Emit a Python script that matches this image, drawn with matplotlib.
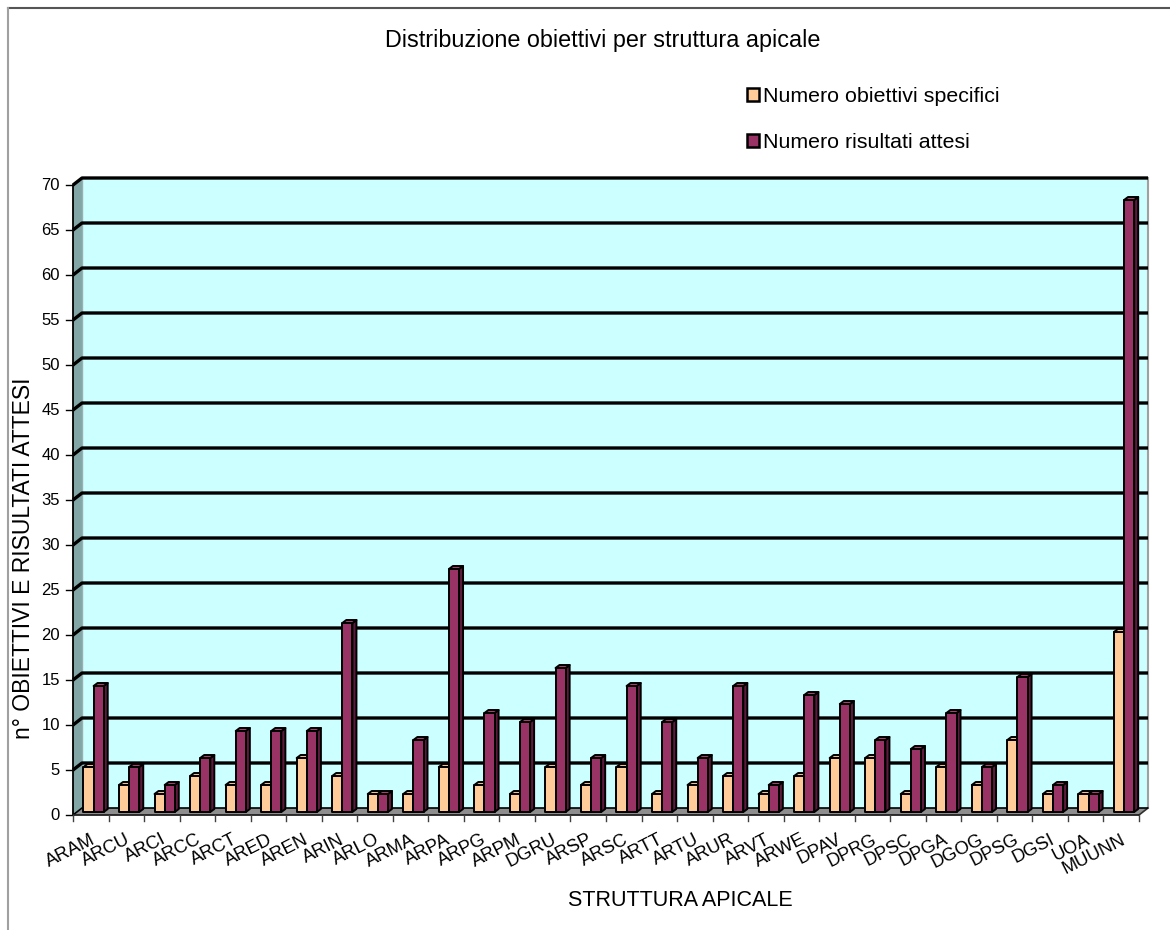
import matplotlib
matplotlib.use('Agg')
import matplotlib.pyplot as plt
from matplotlib.patches import Polygon, Rectangle, Patch
from matplotlib.lines import Line2D

categories = ["ARAM", "ARCU", "ARCI", "ARCC", "ARCT", "ARED", "AREN", "ARIN", "ARLO", "ARMA",
              "ARPA", "ARPG", "ARPM", "DGRU", "ARSP", "ARSC", "ARTT", "ARTU", "ARUR", "ARVT",
              "ARWE", "DPAV", "DPRG", "DPSC", "DPGA", "DGOG", "DPSG", "DGSI", "UOA", "MUUNN"]
obiettivi = [5, 3, 2, 4, 3, 3, 6, 4, 2, 2, 5, 3, 2, 5, 3, 5, 2, 3, 4, 2,
             4, 6, 6, 2, 5, 3, 8, 2, 2, 20]
risultati = [14, 5, 3, 6, 9, 9, 9, 21, 2, 8, 27, 11, 10, 16, 6, 14, 10, 6, 14, 3,
             13, 12, 8, 7, 11, 5, 15, 3, 2, 68]
y_ticks = list(range(0, 75, 5))
series_names = ["Numero obiettivi specifici", "Numero risultati attesi"]
title = "Distribuzione obiettivi per struttura apicale"
xlabel = "STRUTTURA APICALE"
ylabel = "n° OBIETTIVI E RISULTATI ATTESI"

plt.rcParams['font.family'] = ['Liberation Sans', 'DejaVu Sans']

W, H = 1170, 930
fig = plt.figure(figsize=(W / 100, H / 100), dpi=100)

# front plane in pixels
X0, X1 = 73, 1139
Y0, Y1 = 815, 185
ax = fig.add_axes([X0 / W, (H - Y0) / H, (X1 - X0) / W, (Y0 - Y1) / H])
n = len(categories)
ymax = 70
ax.set_xlim(0, n)
ax.set_ylim(0, ymax)
ax.axis('off')
ux = n / (X1 - X0)
uy = ymax / (Y0 - Y1)

DX, DY = 9, 7  # wall depth (px)
dx, dy = DX * ux, DY * uy

# back wall
ax.add_patch(Rectangle((dx, dy), n, ymax, facecolor='#CCFFFF', edgecolor='none', clip_on=False, zorder=1))
# left wall
ax.add_patch(Polygon([(0, 0), (dx, dy), (dx, ymax + dy), (0, ymax)], closed=True,
                     facecolor='#82A6A6', edgecolor='none', clip_on=False, zorder=1))
ax.add_line(Line2D([dx, dx], [dy, ymax + dy], color='#9AB0B0', lw=1.0, clip_on=False, zorder=2))
# floor
ax.add_patch(Polygon([(0, 0), (n, 0), (n + dx, dy), (dx, dy)], closed=True,
                     facecolor='#8E8E8E', edgecolor='none', clip_on=False, zorder=1))
# right edge of wall
ax.add_line(Line2D([n + dx, n + dx], [dy, ymax + dy], color='#A0A0A0', lw=1.5, clip_on=False, zorder=2))
ax.add_line(Line2D([n, n + dx], [0, dy], color='#303030', lw=1.2, clip_on=False, zorder=2))

# gridlines
for v in y_ticks:
    ax.add_line(Line2D([0, dx, n + dx], [v, v + dy, v + dy], color='black',
                       lw=2.4 if v > 0 else 1.2, clip_on=False, zorder=2, solid_capstyle='butt'))

# axes lines
ax.add_line(Line2D([0, 0], [0, ymax], color='black', lw=1.3, clip_on=False, zorder=6))
ax.add_line(Line2D([0, n], [0, 0], color='#202020', lw=1.3, clip_on=False, zorder=6))

# y ticks
for v in y_ticks:
    ax.add_line(Line2D([-7 * ux, 0], [v, v], color='black', lw=1.0, clip_on=False, zorder=6))
    ax.text(-13 * ux, v, str(v), ha='right', va='center', fontsize=12, clip_on=False)

# x ticks
for i in range(n + 1):
    ax.add_line(Line2D([i, i], [0, -6 * uy], color='#404040', lw=1.0, clip_on=False, zorder=6))
for i, c in enumerate(categories):
    ax.text(i + 0.48, -16 * uy, c, ha='right', va='top', rotation=27, rotation_mode='anchor',
            fontsize=13.2, clip_on=False)

# bars
face = ['#FFCC99', '#993366']
side = ['#D6A574', '#5E1A3C']
top = ['#F2BE8C', '#A8406F']
BW = 0.285
BX, BY = 3 * ux, 3 * uy
SX, SY = 4 * ux, 3 * uy
for i in range(n):
    for s, vals in enumerate([obiettivi, risultati]):
        v = vals[i]
        xl = i + 0.21 + s * BW + BX
        xr = xl + BW
        b = BY
        t = BY + v
        kw = dict(edgecolor='black', lw=1.4, clip_on=False, zorder=4, joinstyle='round')
        ax.add_patch(Polygon([(xr, b), (xr + SX, b + SY), (xr + SX, t + SY), (xr, t)], closed=True,
                             facecolor=side[s], **kw))
        ax.add_patch(Polygon([(xl, t), (xr, t), (xr + SX, t + SY), (xl + SX, t + SY)], closed=True,
                             facecolor=top[s], **kw))
        ax.add_patch(Rectangle((xl, b), BW, v, facecolor=face[s], **kw))

# texts
fig.text(603 / W, 1 - 40 / H, title, ha='center', va='center', fontsize=16.8)
fig.text(680 / W, 1 - 900 / H, xlabel, ha='center', va='center', fontsize=15.5)
fig.text(24 / W, 1 - 558 / H, ylabel, ha='center', va='center', rotation=90, fontsize=16.5)

handles = [Patch(facecolor=face[k], edgecolor='black', lw=1.8) for k in range(2)]
fig.legend(handles, series_names, loc='upper left', bbox_to_anchor=(747 / W, 1 - 87 / H),
           frameon=False, handlelength=0.55, handleheight=0.55, handletextpad=0.2,
           labelspacing=1.28, fontsize=15.4, borderaxespad=0, borderpad=0)

# outer frame
fig.add_artist(Line2D([8 / W, 1], [1 - 8 / H, 1 - 8 / H], transform=fig.transFigure, color='#555555', lw=1.5))
fig.add_artist(Line2D([8 / W, 8 / W], [0, 1 - 8 / H], transform=fig.transFigure, color='#A0A0A0', lw=1.5))

fig.savefig('out.png', dpi=100)
